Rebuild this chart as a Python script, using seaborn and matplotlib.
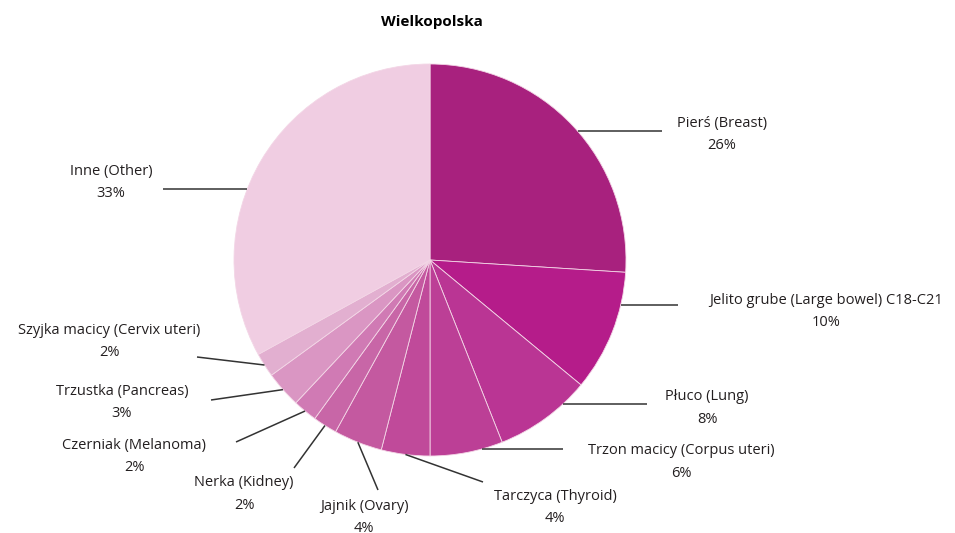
import numpy as np
import seaborn as sns
import matplotlib.pyplot as plt

sns.set_theme(style="white")
plt.rcParams['font.family'] = ['Open Sans', 'DejaVu Sans']

# data
sites = ["Pierś (Breast)", "Jelito grube (Large bowel) C18-C21", "Płuco (Lung)",
         "Trzon macicy (Corpus uteri)", "Tarczyca (Thyroid)", "Jajnik (Ovary)",
         "Nerka (Kidney)", "Czerniak (Melanoma)", "Trzustka (Pancreas)",
         "Szyjka macicy (Cervix uteri)", "Inne (Other)"]
shares = [26, 10, 8, 6, 4, 4, 2, 2, 3, 2, 33]
colors = ["#a8217e", "#b51c8a", "#ba3594", "#bc3f96", "#c04a9a", "#c459a0",
          "#c866a7", "#d07ab4", "#da96c3", "#e2afd0", "#f0cde2"]

# label layout in pixels: text centre x, first line y, leader end x, end y, mode
# mode 'h' = horizontal line from circle edge, 'm' = from wedge middle
layout = [
    (722, 123, 662, 131, 'h'),
    (826, 300, 678, 305, 'h'),
    (707, 397, 647, 404, 'h'),
    (681, 451, 563, 449, 'h'),
    (555, 496, 483, 482, 'm'),
    (364, 506, 378, 490, 'm'),
    (244, 483, 294, 468, 'm'),
    (134, 445, 236, 442, 'm'),
    (122, 391, 211, 400, 'm'),
    (109, 330, 197, 357, 'm'),
    (111, 171, 163, 189, 'h'),
]

W, H = 955, 533
CX, CY, R = 430, 260, 196

def to_data(px, py):
    return (px - CX) / R, (CY - py) / R

fig = plt.figure(figsize=(W / 100, H / 100), dpi=100)
ax = fig.add_axes([0, 0, 1, 1])

wedges, _ = ax.pie(shares, colors=colors, startangle=90, counterclock=False,
                   radius=1, center=(0, 0),
                   wedgeprops=dict(edgecolor="#f3d6e6", linewidth=0.6))

ax.set_aspect('auto')
ax.set_xlim(-CX / R, (W - CX) / R)
ax.set_ylim((CY - H) / R, CY / R)
ax.axis('off')

for w, name, pct, (tx, ty, ex, ey, mode) in zip(wedges, sites, shares, layout):
    x1, y1 = to_data(ex, ey)
    if mode == 'h':
        ys = y1
        xs = np.sqrt(max(1 - ys ** 2, 0)) * np.sign(x1 - 0.0 if x1 != 0 else 1)
    else:
        ang = np.deg2rad((w.theta1 + w.theta2) / 2)
        xs, ys = np.cos(ang), np.sin(ang)
    ax.plot([xs, x1], [ys, y1], color="#333333", lw=1.1, solid_capstyle='butt')
    lx, ly = to_data(tx, ty)
    ax.text(lx, ly, name, ha='center', va='center', fontsize=10.5, color="#231f20")
    ax.text(lx, ly - 22.5 / R, f"{pct}%", ha='center', va='center',
            fontsize=10.5, color="#231f20")

tx, ty = to_data(432, 22)
ax.text(tx, ty, "Wielkopolska", ha='center', va='center', fontsize=11,
        fontweight='bold', color="#000000")

plt.savefig("out.png", dpi=100)
